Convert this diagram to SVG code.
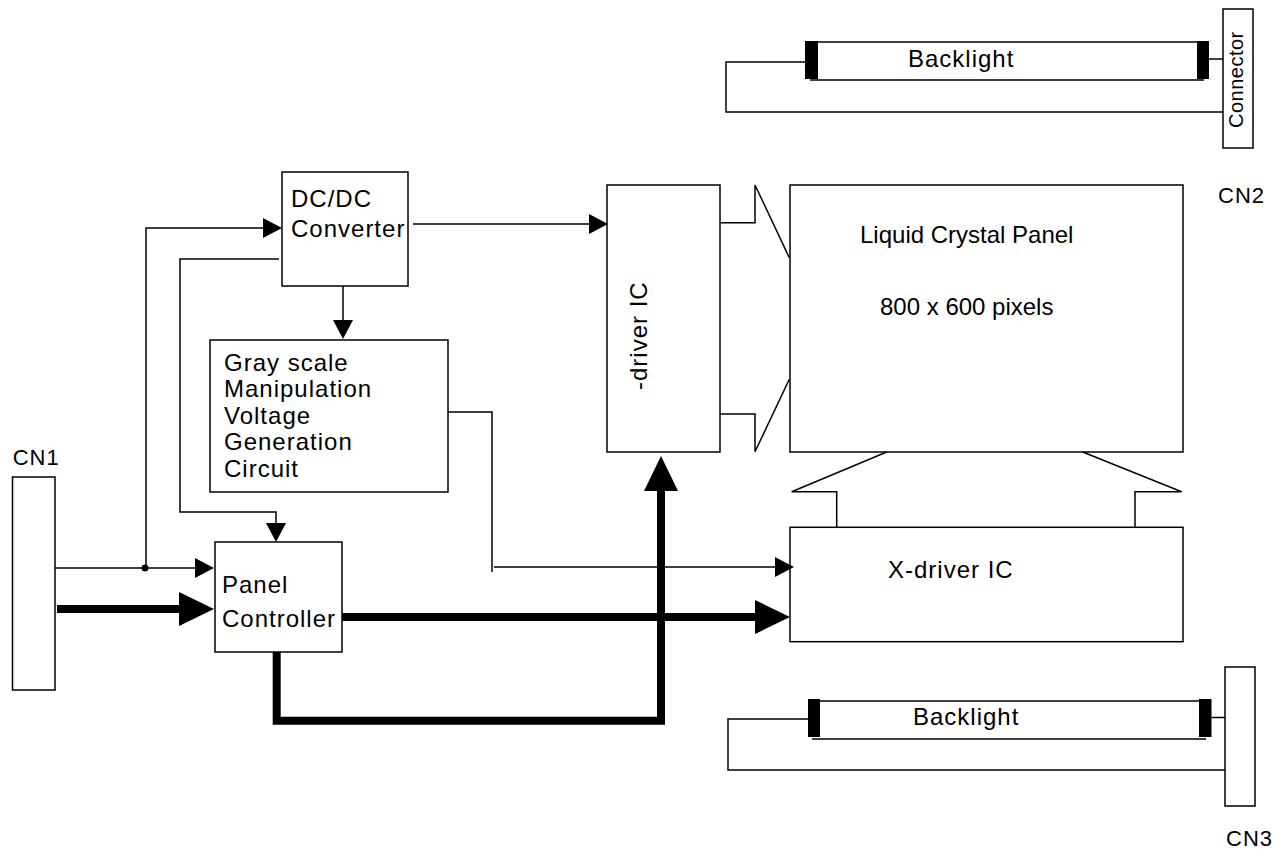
<svg xmlns="http://www.w3.org/2000/svg" width="1286" height="856" viewBox="0 0 1286 856">
<style>
.box{fill:#fff;stroke:#000;stroke-width:1.5}
.ln{fill:none;stroke:#000;stroke-width:1.5}
.th{fill:none;stroke:#000;stroke-width:8;stroke-linejoin:miter}
.t{font-family:"Liberation Sans",Arial,sans-serif;font-size:24px;letter-spacing:1px;fill:#000}
.t0{font-family:"Liberation Sans",Arial,sans-serif;font-size:24px;fill:#000}
.cn{font-family:"Liberation Sans",Arial,sans-serif;font-size:22px;letter-spacing:1px;fill:#000}
.cap{fill:#000}
</style>
<defs>
<marker id="ah" markerUnits="userSpaceOnUse" markerWidth="20" markerHeight="20" refX="0" refY="10" orient="auto"><path d="M0,0 L19,10 L0,20 z" fill="#000"/></marker>
<marker id="ahb" markerUnits="userSpaceOnUse" markerWidth="36" markerHeight="34" refX="0" refY="17" orient="auto"><path d="M0,0 L35,17 L0,34 z" fill="#000"/></marker>
</defs>
<rect width="1286" height="856" fill="#fff"/>

<g id="backlight-top">
<rect class="cap" x="805" y="41" width="13" height="38"/>
<rect class="cap" x="1197" y="41" width="12" height="38"/>
<path class="ln" d="M818,42 H1197 M810,80 H1204"/>
<path class="ln" d="M805,62 H726 V112 H1223 M1209,59 H1223"/>
<text class="t" x="908" y="67">Backlight</text>
</g>

<g id="cn2">
<rect class="box" x="1223" y="9" width="30" height="139"/>
<text x="1243" y="128" transform="rotate(-90 1243 128)" style="font-family:'Liberation Sans',Arial,sans-serif;font-size:20px;letter-spacing:0.5px">Connector</text>
<text class="cn" x="1218" y="203">CN2</text>
</g>

<g id="backlight-bottom">
<rect class="cap" x="808" y="699" width="12" height="38"/>
<rect class="cap" x="1199" y="699" width="12.5" height="38"/>
<path class="ln" d="M820,701 H1199 M812,739 H1206"/>
<path class="ln" d="M808,719 H728 V770 H1225 M1211.5,717.5 H1225"/>
<text class="t" x="913" y="725">Backlight</text>
</g>

<g id="cn3">
<rect class="box" x="1225" y="667" width="30" height="139"/>
<text class="cn" x="1226" y="846">CN3</text>
</g>

<g id="cn1">
<rect class="box" x="12.5" y="477" width="42.5" height="213"/>
<text class="cn" x="12.7" y="465">CN1</text>
</g>

<g id="dcdc">
<rect class="box" x="282" y="172" width="126" height="114"/>
<text class="t" x="291" y="207">DC/DC</text>
<text class="t" x="291" y="237">Converter</text>
</g>

<g id="grayscale">
<rect class="box" x="210" y="340" width="238" height="152"/>
<text class="t" x="224" y="370.5">Gray scale</text>
<text class="t" x="224" y="397">Manipulation</text>
<text class="t" x="224" y="423.5">Voltage</text>
<text class="t" x="224" y="450">Generation</text>
<text class="t" x="224" y="476.5">Circuit</text>
</g>

<g id="panel-controller">
<rect class="box" x="215" y="542" width="127" height="110"/>
<text class="t" x="222" y="593">Panel</text>
<text class="t" x="222" y="627">Controller</text>
</g>

<g id="y-driver">
<rect class="box" x="607" y="185" width="113" height="267"/>
<text class="t" x="646.7" y="390" transform="rotate(-90 646.7 390)">-driver IC</text>
</g>

<g id="lcd">
<rect class="box" x="790" y="185" width="393" height="267"/>
<text class="t0" x="860" y="243">Liquid Crystal Panel</text>
<text class="t0" x="880" y="315">800 x 600 pixels</text>
</g>

<g id="x-driver">
<rect class="box" x="790" y="527.3" width="393" height="114.4"/>
<text class="t" x="888" y="578">X-driver IC</text>
</g>

<g id="connectors">
<path class="ln" d="M720,222.7 H755 V185 L789.3,257.7"/>
<path class="ln" d="M720,414 H755 V451.7 L789.3,379.3"/>
<path class="ln" d="M886.7,452 L791.7,491.7 H836.7 V527.3"/>
<path class="ln" d="M1082.7,452 L1181.7,491.7 H1135 V527.3"/>
<path class="ln" d="M55,568 H195" marker-end="url(#ah)"/>
<circle cx="145" cy="568" r="3.5" fill="#000"/>
<path class="ln" d="M146,568 V228 H263" marker-end="url(#ah)"/>
<path class="ln" d="M279,259 H180 V512 H276 V523" marker-end="url(#ah)"/>
<path class="ln" d="M413,224 H589" marker-end="url(#ah)"/>
<path class="ln" d="M343,286 V320" marker-end="url(#ah)"/>
<path class="ln" d="M448,412 H492 V572 M494,567 H775" marker-end="url(#ah)"/>
<path class="th" d="M57,609 H179" marker-end="url(#ahb)"/>
<path class="th" d="M342,617 H755" marker-end="url(#ahb)"/>
<path class="th" d="M276.7,652 V720.7 H661 V491" marker-end="url(#ahb)"/>
</g>
</svg>
